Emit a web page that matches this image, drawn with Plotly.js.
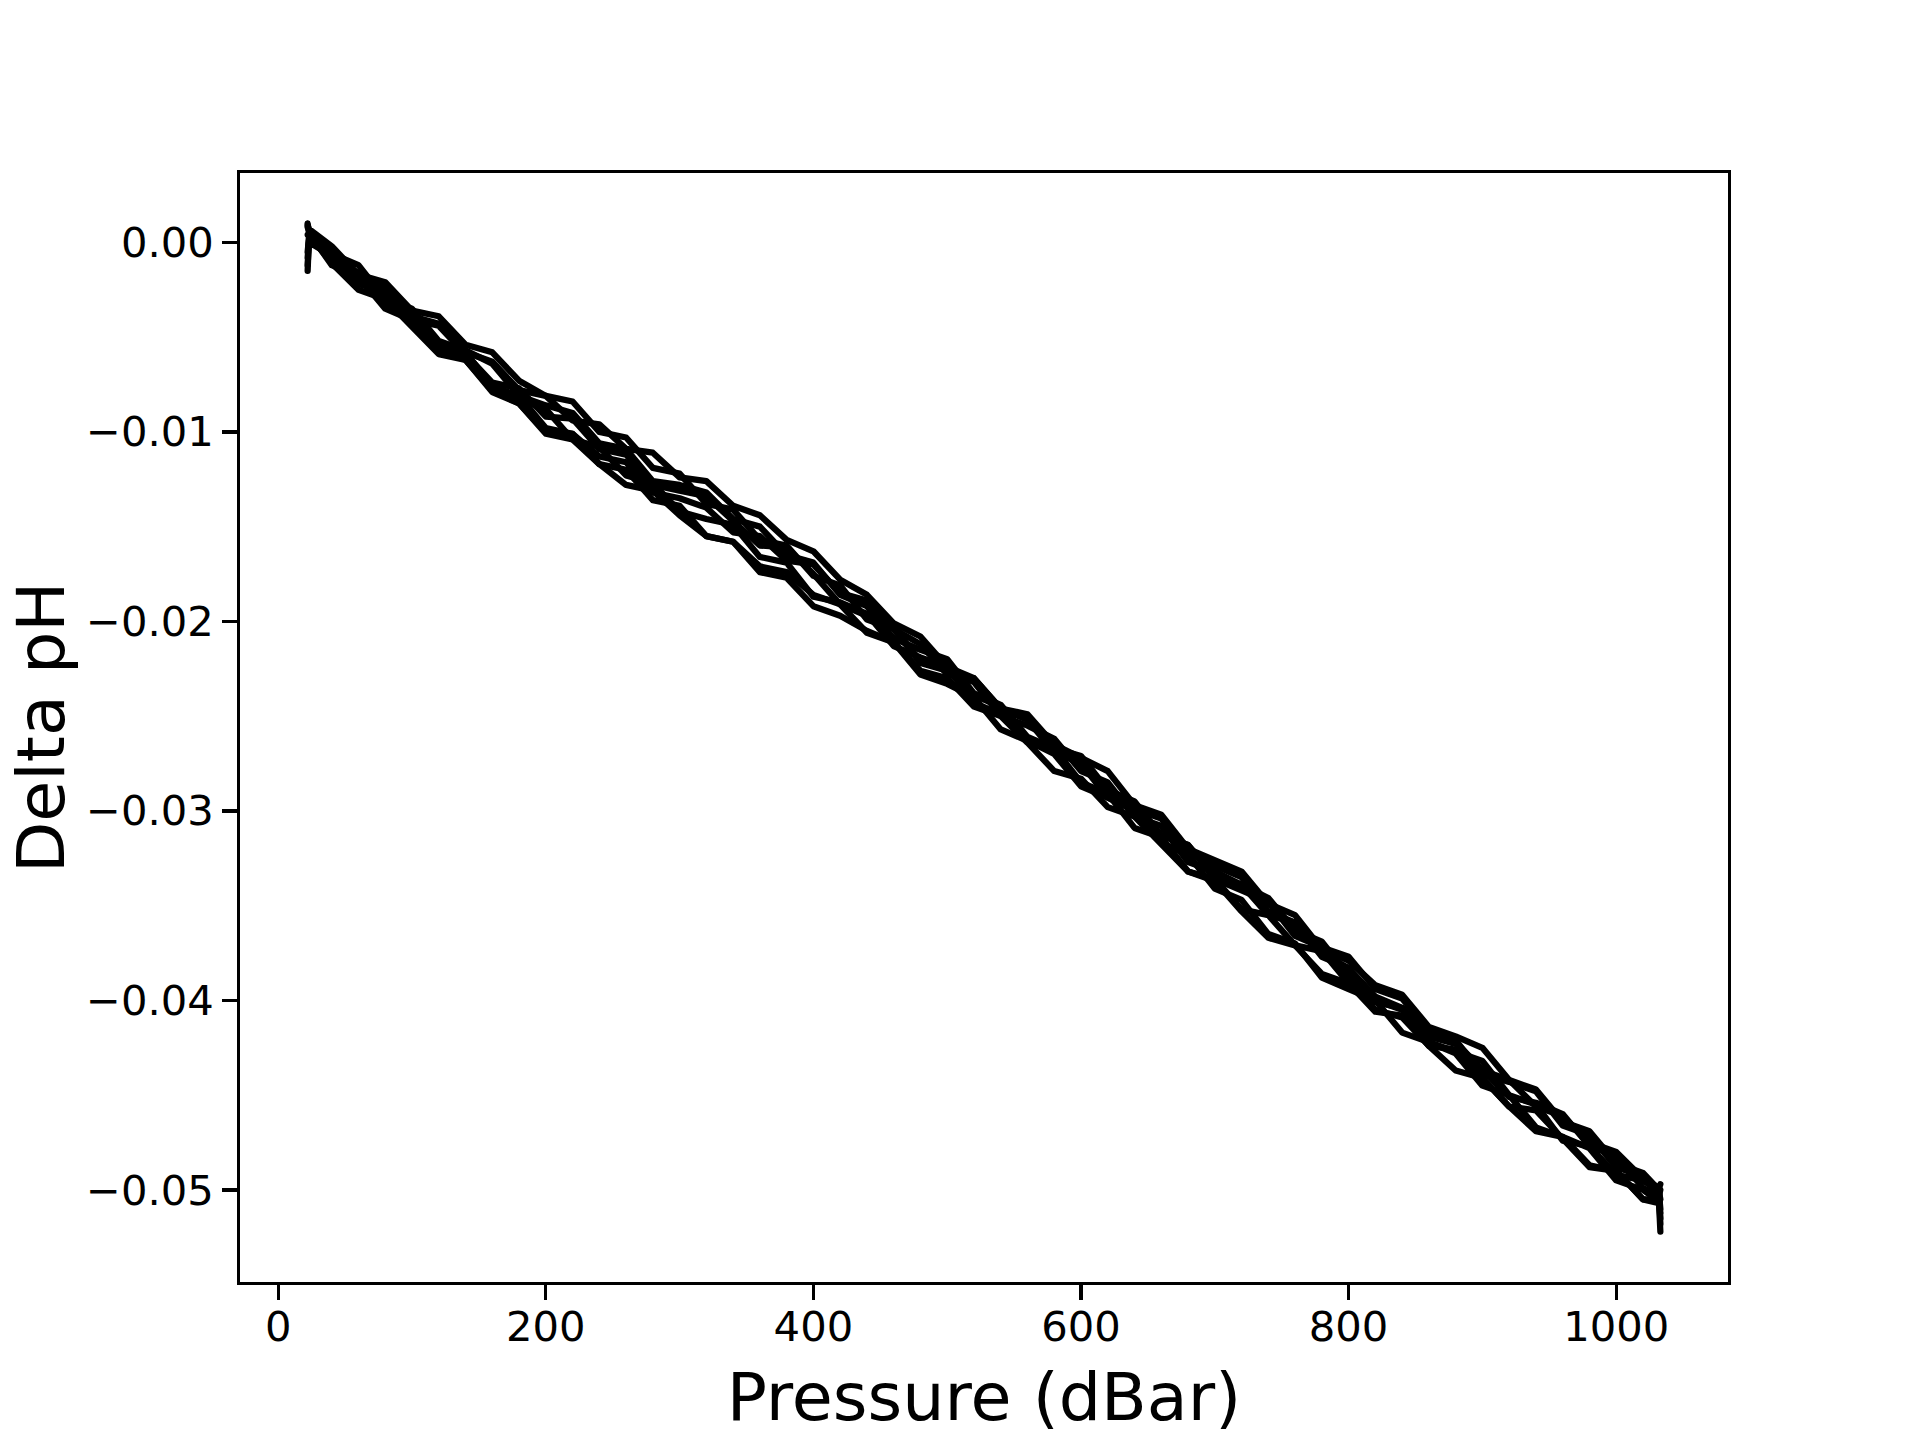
<!DOCTYPE html>
<html>
<head>
<meta charset="utf-8">
<script src="https://cdn.plot.ly/plotly-3.0.1.min.js"></script>
<style>html,body{margin:0;padding:0;background:#fff;}#chart{width:1920px;height:1440px;}
path.js-line{stroke-linejoin:round;stroke-linecap:round;}</style>
</head>
<body>
<div id="chart"></div>
<script>
// Pressure grid (dBar) shared by all profiles
const pressure = [22, 23, 40, 60, 80, 100, 120, 140, 160, 180, 200, 220, 240, 260, 280, 300, 320, 340, 360, 380, 400,
  420, 440, 460, 480, 500, 520, 540, 560, 580, 600, 620, 640, 660, 680, 700, 720, 740, 760, 780, 800,
  820, 840, 860, 880, 900, 920, 940, 960, 980, 1000, 1020, 1032, 1033];

// Delta pH profiles
const profile1 = [-0.0015, 0.0003, -0.0005,-0.0019,-0.0024,-0.0039,-0.0043,-0.0058,-0.0063,-0.0078,-0.0081,-0.0094,
  -0.0096,-0.0109,-0.0111,-0.0124,-0.0126,-0.0139,-0.0144,-0.0157,-0.0163,-0.0178,
  -0.0186,-0.0201,-0.0208,-0.0224,-0.0230,-0.0246,-0.0252,-0.0269,-0.0274,-0.0291,
  -0.0298,-0.0313,-0.0318,-0.0334,-0.0339,-0.0355,-0.0359,-0.0375,-0.0383,-0.0398,
  -0.0404,-0.0419,-0.0423,-0.0437,-0.0442,-0.0456,-0.0461,-0.0475,-0.0480,-0.0494, -0.0499,-0.0497];
const profile2 = [0.0010, 0.0005, -0.0012,-0.0018,-0.0035,-0.0041,-0.0057,-0.0062,-0.0079,-0.0085,-0.0101,-0.0104,
  -0.0117,-0.0128,-0.0131,-0.0144,-0.0155,-0.0158,-0.0171,-0.0174,-0.0186,-0.0191,
  -0.0206,-0.0211,-0.0226,-0.0230,-0.0245,-0.0250,-0.0264,-0.0279,-0.0283,-0.0298,
  -0.0303,-0.0318,-0.0332,-0.0337,-0.0353,-0.0367,-0.0371,-0.0386,-0.0391,-0.0405,
  -0.0409,-0.0424,-0.0437,-0.0441,-0.0456,-0.0469,-0.0472,-0.0487,-0.0490,-0.0505, -0.0507,-0.0522];
const profile3 = [-0.0005, 0.0002, -0.0006,-0.0012,-0.0030,-0.0035,-0.0052,-0.0057,-0.0064,-0.0081,-0.0086,-0.0090,
  -0.0106,-0.0109,-0.0126,-0.0128,-0.0132,-0.0146,-0.0150,-0.0165,-0.0169,-0.0186,
  -0.0192,-0.0209,-0.0215,-0.0220,-0.0238,-0.0244,-0.0261,-0.0267,-0.0271,-0.0289,
  -0.0295,-0.0313,-0.0318,-0.0336,-0.0342,-0.0348,-0.0366,-0.0372,-0.0377,-0.0394,
  -0.0399,-0.0416,-0.0421,-0.0439,-0.0443,-0.0448,-0.0466,-0.0471,-0.0488,-0.0493, -0.0502,-0.0510];
const profile4 = [0.0008, 0.0006, -0.0010,-0.0016,-0.0033,-0.0036,-0.0055,-0.0060,-0.0078,-0.0083,-0.0088,-0.0104,
  -0.0108,-0.0123,-0.0127,-0.0142,-0.0146,-0.0149,-0.0166,-0.0169,-0.0187,-0.0190,
  -0.0196,-0.0213,-0.0219,-0.0224,-0.0243,-0.0249,-0.0262,-0.0267,-0.0285,-0.0291,
  -0.0309,-0.0314,-0.0332,-0.0336,-0.0352,-0.0355,-0.0371,-0.0374,-0.0391,-0.0406,
  -0.0408,-0.0424,-0.0426,-0.0441,-0.0456,-0.0458,-0.0473,-0.0488,-0.0490,-0.0505, -0.0505,-0.0515];
const profile5 = [-0.0012, 0.0000, -0.0007,-0.0022,-0.0026,-0.0041,-0.0044,-0.0059,-0.0074,-0.0077,-0.0092,-0.0093,
  -0.0109,-0.0112,-0.0128,-0.0131,-0.0134,-0.0147,-0.0160,-0.0161,-0.0175,-0.0191,
  -0.0197,-0.0203,-0.0221,-0.0226,-0.0232,-0.0250,-0.0255,-0.0262,-0.0279,-0.0285,
  -0.0303,-0.0308,-0.0327,-0.0332,-0.0339,-0.0346,-0.0363,-0.0369,-0.0387,-0.0401,
  -0.0404,-0.0419,-0.0422,-0.0437,-0.0451,-0.0454,-0.0460,-0.0477,-0.0482,-0.0499, -0.0503,-0.0500];
const profile6 = [0.0004, 0.0004, -0.0011,-0.0025,-0.0030,-0.0045,-0.0059,-0.0062,-0.0078,-0.0085,-0.0100,-0.0101,
  -0.0113,-0.0116,-0.0132,-0.0135,-0.0140,-0.0153,-0.0155,-0.0168,-0.0170,-0.0185,
  -0.0189,-0.0204,-0.0212,-0.0228,-0.0230,-0.0246,-0.0249,-0.0265,-0.0272,-0.0279,
  -0.0297,-0.0302,-0.0320,-0.0326,-0.0332,-0.0349,-0.0355,-0.0373,-0.0379,-0.0392,
  -0.0397,-0.0414,-0.0419,-0.0425,-0.0442,-0.0447,-0.0464,-0.0469,-0.0486,-0.0491, -0.0500,-0.0518];
const profile7 = [-0.0008, 0.0001, -0.0006,-0.0020,-0.0025,-0.0040,-0.0053,-0.0058,-0.0076,-0.0081,-0.0098,-0.0101,
  -0.0117,-0.0120,-0.0136,-0.0139,-0.0155,-0.0158,-0.0174,-0.0177,-0.0192,-0.0197,
  -0.0205,-0.0211,-0.0228,-0.0233,-0.0240,-0.0257,-0.0263,-0.0270,-0.0287,-0.0293,
  -0.0300,-0.0317,-0.0323,-0.0341,-0.0347,-0.0365,-0.0370,-0.0388,-0.0394,-0.0400,
  -0.0417,-0.0422,-0.0428,-0.0445,-0.0450,-0.0467,-0.0472,-0.0478,-0.0495,-0.0500, -0.0506,-0.0512];
const profile8 = [0.0009, 0.0007, -0.0002,-0.0017,-0.0021,-0.0036,-0.0039,-0.0054,-0.0058,-0.0073,-0.0081,-0.0084,
  -0.0100,-0.0103,-0.0119,-0.0122,-0.0138,-0.0141,-0.0157,-0.0160,-0.0176,-0.0181,
  -0.0199,-0.0204,-0.0222,-0.0226,-0.0239,-0.0245,-0.0263,-0.0269,-0.0275,-0.0293,
  -0.0299,-0.0304,-0.0322,-0.0329,-0.0335,-0.0353,-0.0359,-0.0377,-0.0383,-0.0400,
  -0.0405,-0.0422,-0.0427,-0.0432,-0.0450,-0.0455,-0.0474,-0.0477,-0.0492,-0.0495, -0.0501,-0.0505];

const profiles = [profile1, profile2, profile3, profile4, profile5, profile6, profile7, profile8];

const xTicks = [0, 200, 400, 600, 800, 1000];
const yTicks = [0, -0.01, -0.02, -0.03, -0.04, -0.05];
const xTitle = 'Pressure (dBar)';
const yTitle = 'Delta pH';

const traces = profiles.map(v => ({
  x: pressure, y: v, type: 'scatter', mode: 'lines',
  line: {color: '#000000', width: 6.25}, showlegend: false, hoverinfo: 'skip'
}));

const font = {family: 'DejaVu Sans', color: '#000000'};
const layout = {
  width: 1920, height: 1440,
  margin: {l: 240, r: 192, t: 173, b: 158, pad: 0},
  paper_bgcolor: '#ffffff', plot_bgcolor: '#ffffff',
  font: Object.assign({size: 41.7}, font),
  showlegend: false,
  xaxis: {
    range: [-28.55, 1083.55], tickvals: xTicks, ticktext: xTicks.map(String),
    showgrid: false, zeroline: false, showline: true, mirror: true,
    linecolor: '#000', linewidth: 3.3, ticks: 'outside', ticklen: 14.6, tickwidth: 3.3, tickcolor: '#000',
    tickfont: Object.assign({size: 41.7}, font), ticklabelstandoff: -9,
    title: {text: xTitle, font: Object.assign({size: 66.7}, font), standoff: 24}
  },
  yaxis: {
    range: [-0.05486, 0.00366], tickvals: yTicks, tickformat: '.2f',
    showgrid: false, zeroline: false, showline: true, mirror: true,
    linecolor: '#000', linewidth: 3.3, ticks: 'outside', ticklen: 14.6, tickwidth: 3.3, tickcolor: '#000',
    tickfont: Object.assign({size: 41.7}, font)
  },
  annotations: [{
    text: yTitle, textangle: -90, showarrow: false,
    xref: 'paper', yref: 'paper', x: -0.134, y: 0.5, xanchor: 'center', yanchor: 'middle',
    font: Object.assign({size: 66.7}, font)
  }]
};

Plotly.newPlot('chart', traces, layout, {displayModeBar: false, staticPlot: true});
</script>
</body>
</html>
